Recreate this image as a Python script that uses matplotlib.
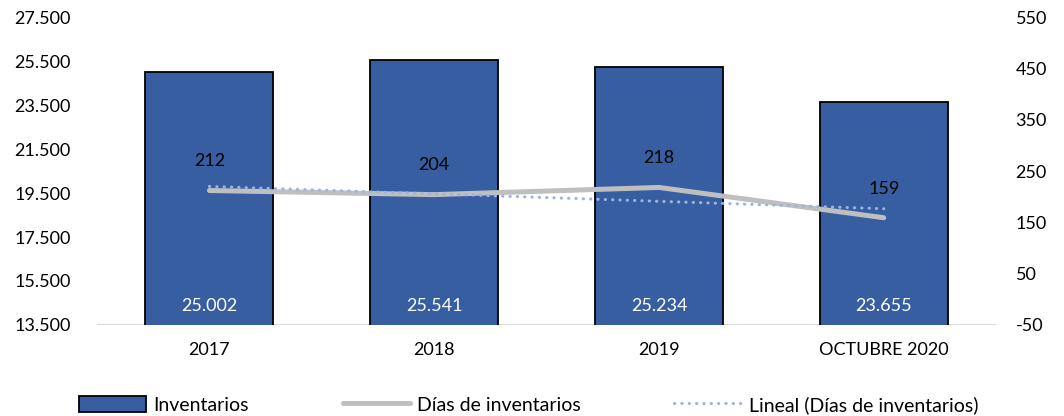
import matplotlib.pyplot as plt
import numpy as np

plt.rcParams['font.family'] = ['Lato', 'DejaVu Sans']

# Datos
categorias = ["2017", "2018", "2019", "OCTUBRE 2020"]
inventarios = [25002, 25541, 25234, 23655]
dias_inventario = [212, 204, 218, 159]

izq_ticks = [13500, 15500, 17500, 19500, 21500, 23500, 25500, 27500]
der_ticks = [-50, 50, 150, 250, 350, 450, 550]

COLOR_BARRA = "#365EA0"
COLOR_LINEA = "#BFBFBF"
COLOR_TENDENCIA = "#9DB3E0"


def miles(v):
    return f"{v:,.0f}".replace(",", ".")


fig = plt.figure(figsize=(10.64, 4.16), dpi=100)
ax = fig.add_axes([0.0912, 0.2188, 0.845, 0.7402])
ax2 = ax.twinx()

x = np.arange(len(categorias))

# Barras de inventarios
barras = ax.bar(x, inventarios, width=0.57, bottom=0, color=COLOR_BARRA,
                edgecolor="black", linewidth=1.3, label="Inventarios", zorder=2)
ax.set_ylim(izq_ticks[0], izq_ticks[-1])
ax.set_xlim(-0.5, len(categorias) - 0.5)
ax.set_yticks(izq_ticks)
ax.set_yticklabels([miles(v) for v in izq_ticks])
ax.set_xticks(x)
ax.set_xticklabels(categorias)

for xi, v in zip(x, inventarios):
    ax.annotate(miles(v), xy=(xi, izq_ticks[0]), xytext=(0, 13.5),
                textcoords="offset points", ha="center", va="center",
                color="white", fontsize=13, zorder=5)

# Linea de dias y tendencia lineal
ax2.plot(x, dias_inventario, color=COLOR_LINEA, linewidth=3.6,
         solid_capstyle="round", label="Días de inventarios", zorder=3)
pendiente, corte = np.polyfit(x, dias_inventario, 1)
ax2.plot(x, pendiente * x + corte, color=COLOR_TENDENCIA, linewidth=2.2,
         linestyle=(0, (0.1, 2.3)), dash_capstyle="round",
         label="Lineal (Días de inventarios)", zorder=4)
ax2.set_ylim(der_ticks[0], der_ticks[-1])
ax2.set_yticks(der_ticks)
ax2.set_yticklabels([str(v) for v in der_ticks])

for xi, v in zip(x, dias_inventario):
    ax2.annotate(str(v), xy=(xi, v), xytext=(0, 21), textcoords="offset points",
                 ha="center", va="center", color="black", fontsize=13)

# Ejes
for a in (ax, ax2):
    for lado in ("top", "left", "right", "bottom"):
        a.spines[lado].set_visible(False)
ax.axhline(izq_ticks[0], color="#D9D9D9", linewidth=1.5, zorder=1)
ax.tick_params(axis="y", length=0, pad=19, labelsize=13)
ax.tick_params(axis="x", length=0, pad=12, labelsize=13)
ax2.tick_params(axis="y", length=0, pad=14, labelsize=13)

# Leyenda
h1, l1 = ax.get_legend_handles_labels()
h2, l2 = ax2.get_legend_handles_labels()
fig.legend(h1 + h2, l1 + l2, loc="center", bbox_to_anchor=(0.497, 0.027),
           ncol=3, frameon=False, fontsize=14, handlelength=3.45,
           handleheight=0.85, columnspacing=4.8, handletextpad=0.4)

fig.savefig("out.png", dpi=100)
